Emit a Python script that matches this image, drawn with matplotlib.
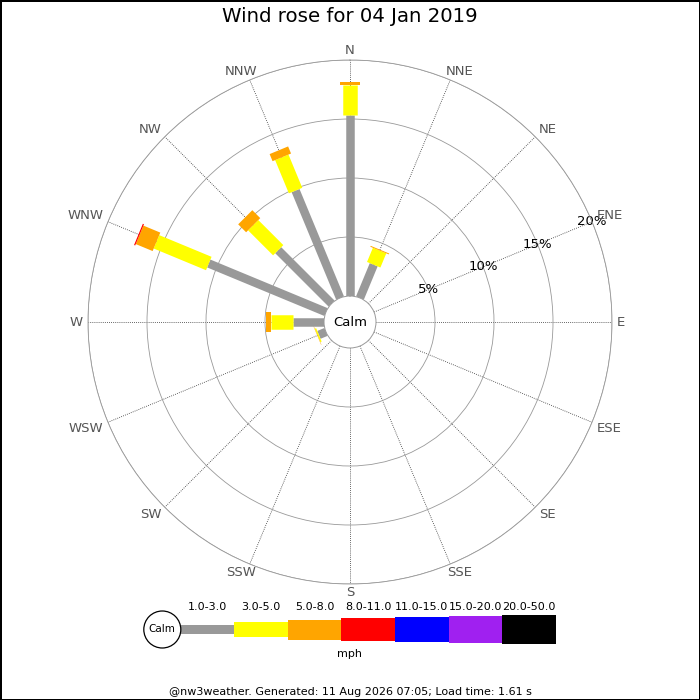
import numpy as np
import matplotlib
matplotlib.use("Agg")
import matplotlib.pyplot as plt
from matplotlib.patches import Circle

# wind rose data for 04 Jan 2019 (percent of observations)
directions = ["N", "NNE", "NE", "ENE", "E", "ESE", "SE", "SSE",
              "S", "SSW", "SW", "WSW", "W", "WNW", "NW", "NNW"]
speed_bands = ["1.0-3.0", "3.0-5.0", "5.0-8.0", "8.0-11.0",
               "11.0-15.0", "15.0-20.0", "20.0-50.0"]
band_colors = ["#999999", "#ffff00", "#ffa500", "#ff0000",
               "#0000ff", "#a020f0", "#000000"]

pct_1_3 = [15.35, 3.05, 0, 0, 0, 0, 0, 0, 0, 0, 0, 0.65, 2.65, 10.75, 6.4, 9.85]
pct_3_5 = [2.55, 1.3, 0, 0, 0, 0, 0, 0, 0, 0, 0, 0.12, 1.87, 4.8, 3.0, 3.05]
pct_5_8 = [0.22, 0.08, 0, 0, 0, 0, 0, 0, 0, 0, 0, 0.03, 0.42, 1.55, 0.95, 0.65]
pct_8_11 = [0, 0, 0, 0, 0, 0, 0, 0, 0, 0, 0, 0, 0, 0.1, 0, 0]
pct_11_15 = [0] * 16
pct_15_20 = [0] * 16
pct_20_50 = [0] * 16
bands = [pct_1_3, pct_3_5, pct_5_8, pct_8_11, pct_11_15, pct_15_20, pct_20_50]

ring_values = [5, 10, 15, 20]
ring_labels = ["5%", "10%", "15%", "20%"]

# bar thickness per band, in pixels
band_px = [8.5, 14.5, 20, 23, 25, 27, 29]
px = 0.72  # points per pixel at dpi 100

angles = np.deg2rad(np.arange(len(directions)) * 22.5)

fig = plt.figure(figsize=(7, 7), dpi=100, edgecolor="black", linewidth=2)

# legend / key axes in pixel coordinates
lax = fig.add_axes([0, 0, 1, 1])
lax.set_xlim(0, 700)
lax.set_ylim(700, 0)
lax.axis("off")

seg_w = 53.65
seg_x0 = 180.5
key_y = 629.5
for j, (name, col) in enumerate(zip(speed_bands, band_colors)):
    left = seg_x0 + j * seg_w
    lax.barh(key_y, seg_w, left=left, height=band_px[j], color=col)
    lax.text(left + seg_w / 2, 606.5, name, fontsize=8, ha="center", va="center")
lax.add_patch(Circle((162.3, key_y), 18.5, facecolor="white", edgecolor="black", lw=0.9))
lax.text(162.3, key_y, "Calm", fontsize=7.5, ha="center", va="center")
lax.text(350, 654, "mph", fontsize=8, ha="center", va="center")

# the rose itself
ax = fig.add_axes([88 / 700, 116 / 700, 524 / 700, 524 / 700], projection="polar")
ax.set_theta_zero_location("N")
ax.set_theta_direction(-1)
ax.set_ylim(0, 20)
ax.set_rorigin(-2.203)

ax.set_xticks(angles)
ax.set_xticklabels([])
ax.tick_params(axis="x", length=0)
ax.xaxis.grid(True, color="#333333", linestyle=(0, (1, 1.5)), linewidth=0.6)

ax.set_yticks(ring_values)
ax.set_yticklabels(ring_labels, fontsize=9.5)
ax.yaxis.grid(True, color="#999999", linestyle="-", linewidth=0.6)
ax.set_rlabel_position(67.5)
ax.tick_params(axis="y", pad=0)
for lbl in ax.get_yticklabels():
    lbl.set_ha("center")
    lbl.set_va("center")

ax.spines["polar"].set_color("#999999")
ax.spines["polar"].set_linewidth(0.6)
ax.spines["inner"].set_color("#999999")
ax.spines["inner"].set_linewidth(0.7)

# compass labels just outside the outer ring
for theta, d in zip(angles, directions):
    s, c = np.sin(theta), np.cos(theta)
    dx, dy = 5 * s, 5 * c
    if abs(s) < 0.2:
        ha = "center"
    elif abs(c) > 0.9:
        ha = "center"
        dx += 7 * np.sign(s)
    else:
        ha = "left" if s > 0 else "right"
    if abs(c) < 0.2:
        va = "center"
    elif c > 0:
        va = "bottom"
        dy -= 2.5
    else:
        va = "top"
        dy += 2.5
    ax.annotate(d, xy=(theta, 20), xytext=(dx * px, dy * px), textcoords="offset points",
                color="#555555", fontsize=9.5, ha=ha, va=va, annotation_clip=False)

for i, theta in enumerate(angles):
    cum = 0
    for j, band in enumerate(bands):
        v = band[i]
        if v <= 0:
            continue
        ax.plot([theta, theta], [cum, cum + v], color=band_colors[j],
                lw=band_px[j] * px, solid_capstyle="butt", zorder=3)
        cum += v

ax.text(0.5, 0.5, "Calm", transform=ax.transAxes, fontsize=9.5, ha="center", va="center")

fig.text(0.5, 1 - 17 / 700, "Wind rose for 04 Jan 2019", fontsize=14.2, ha="center", va="center")
fig.text(0.5, 1 - 692 / 700, "@nw3weather. Generated: 11 Aug 2026 07:05; Load time: 1.61 s",
         fontsize=8, ha="center", va="center")

fig.savefig("out.png", dpi=100)
